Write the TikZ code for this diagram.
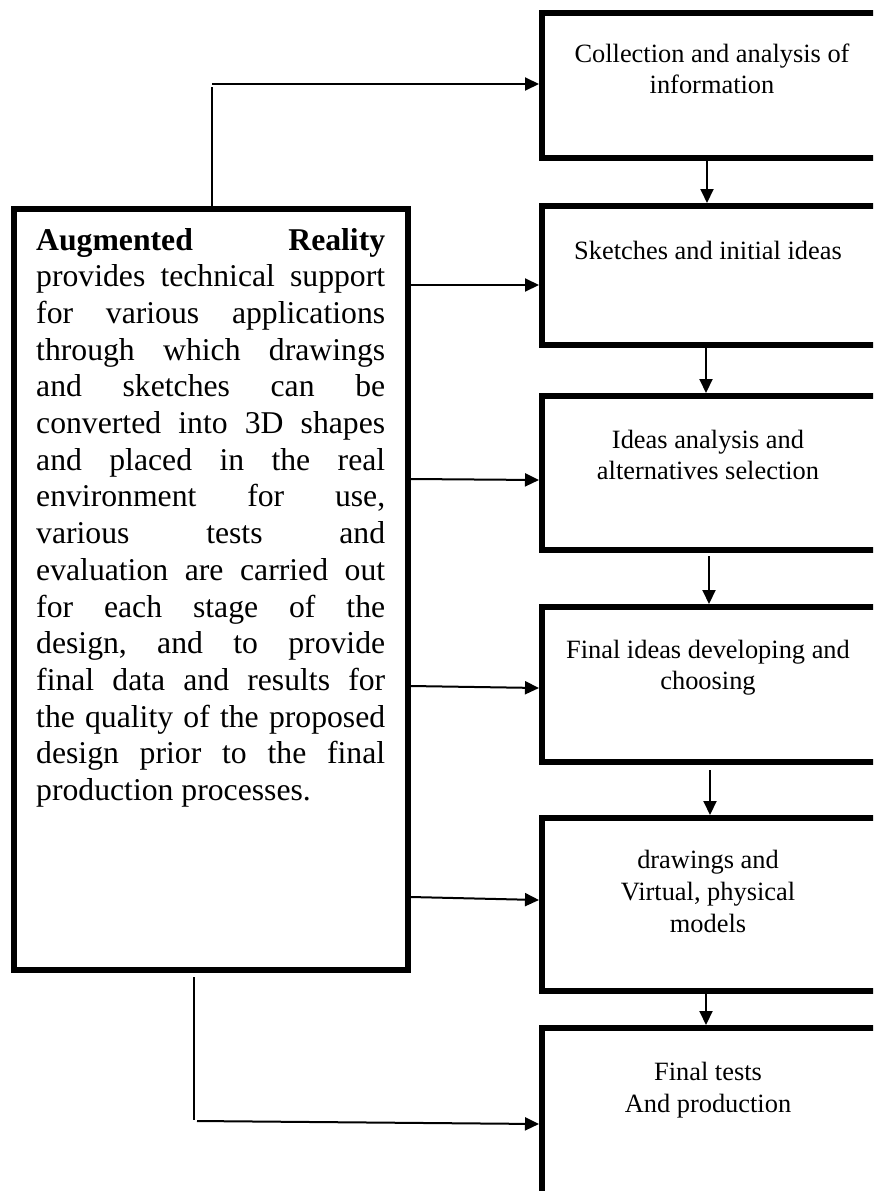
\documentclass[tikz,border=0pt]{standalone}
\usepackage{fontspec}
\setmainfont{Liberation Serif}
\usetikzlibrary{arrows.meta}
\newcommand{\jline}[1]{\hbox to 349pt{#1}}
\newcommand{\ctrline}[1]{\hbox to 330pt{\hfil#1\hfil}}
\tikzset{
  stagebox/.style={draw, line width=6pt, minimum width=340pt, inner sep=0pt},
  arbox/.style={draw, line width=5.5pt, minimum width=394pt, minimum height=761pt, inner sep=0pt},
  conn/.style={line width=2pt, -{Triangle[length=14pt,width=13pt]}},
  thinline/.style={line width=1.2pt},
  boxtext/.style={anchor=base, inner sep=0pt, font=\fontsize{26.4}{31.5}\selectfont},
  artxt/.style={anchor=base west, inner sep=0pt, font=\fontsize{31.7}{36.7}\selectfont}
}
\begin{document}
\begin{tikzpicture}[x=1pt,y=-1pt]
\useasboundingbox (0,0) rectangle (873,1191);
\clip (0,0) rectangle (873,1191);
\fill[white] (0,0) rectangle (873,1191);
% stage boxes
\node[stagebox, minimum height=145pt] (b1) at (712,85.5) {};
\node[stagebox, minimum height=139pt] (b2) at (712,275.5) {};
\node[stagebox, minimum height=154pt] (b3) at (712,473) {};
\node[stagebox, minimum height=155pt] (b4) at (712,684.5) {};
\node[stagebox, minimum height=173pt] (b5) at (712,904.5) {};
\node[stagebox, minimum height=182pt] (b6) at (712,1119) {};
% texts
\node[boxtext] (t1) at (712,62) {\vtop{\baselineskip=31.5pt\ctrline{Collection and analysis of}\ctrline{information}}};
\node[boxtext] (t2) at (708,259) {\vtop{\baselineskip=31.5pt\ctrline{Sketches and initial ideas}}};
\node[boxtext] (t3) at (708,448) {\vtop{\baselineskip=31pt\ctrline{Ideas analysis and}\ctrline{alternatives selection}}};
\node[boxtext] (t4) at (708,658) {\vtop{\baselineskip=31.5pt\ctrline{Final ideas developing and}\ctrline{choosing}}};
\node[boxtext] (t5) at (708,868) {\vtop{\baselineskip=32pt\ctrline{drawings and}\ctrline{Virtual, physical}\ctrline{models}}};
\node[boxtext] (t6) at (708,1080) {\vtop{\baselineskip=32pt\ctrline{Final tests}\ctrline{And production}}};
% AR box
\node[arbox] (ar) at (211,589.5) {};
\node[artxt] (art) at (36,250) {\vtop{\baselineskip=36.7pt
\jline{\textbf{Augmented}\hfil\textbf{Reality}}
\jline{provides\hfil technical\hfil support}
\jline{for\hfil various\hfil applications}
\jline{through\hfil which\hfil drawings}
\jline{and\hfil sketches\hfil can\hfil be}
\jline{converted\hfil into\hfil 3D\hfil shapes}
\jline{and\hfil placed\hfil in\hfil the\hfil real}
\jline{environment\hfil for\hfil use,}
\jline{various\hfil tests\hfil and}
\jline{evaluation\hfil are\hfil carried\hfil out}
\jline{for\hfil each\hfil stage\hfil of\hfil the}
\jline{design,\hfil and\hfil to\hfil provide}
\jline{final\hfil data\hfil and\hfil results\hfil for}
\jline{the\hfil quality\hfil of\hfil the\hfil proposed}
\jline{design\hfil prior\hfil to\hfil the\hfil final}
\hbox{production processes.}}};
% vertical flow arrows
\draw[conn] (b1.south -| 707,0) -- (b2.north -| 707,0);
\draw[conn] (b2.south -| 706,0) -- (b3.north -| 706,0);
\draw[conn, shorten <=3pt] (b3.south -| 709,0) -- (b4.north -| 709,0);
\draw[conn, shorten <=5pt] (b4.south -| 710,0) -- (b5.north -| 710,0);
\draw[conn] (b5.south -| 706,0) -- (b6.north -| 706,0);
% AR to stages
\coordinate (topc) at (212,84);
\draw[thinline] (ar.north -| topc) -- (212,87);
\draw[conn] (topc) -- (b1.west |- topc);
\draw[conn] (ar.east |- 0,285) -- (b2.west |- 0,285);
\draw[conn] (ar.east |- 0,479) -- (b3.west |- 0,480);
\draw[conn] (ar.east |- 0,686) -- (b4.west |- 0,688);
\draw[conn] (ar.east |- 0,897) -- (b5.west |- 0,900);
\coordinate (botc) at (194,1120);
\draw[thinline] (194,977) -- (botc);
\draw[conn] (197,1121) -- (b6.west |- 0,1124);
\end{tikzpicture}
\end{document}
